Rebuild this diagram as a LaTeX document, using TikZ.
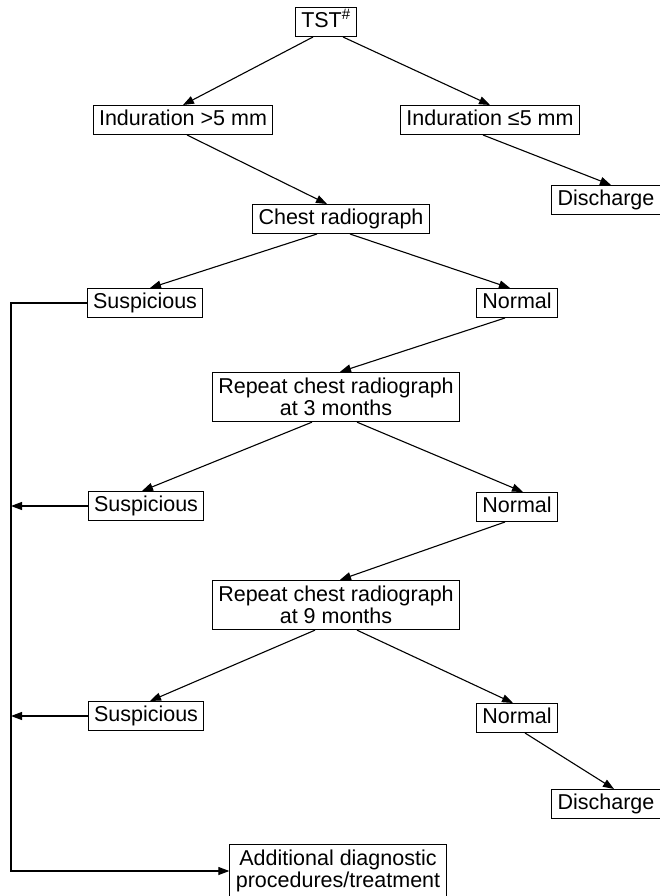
\documentclass[tikz,border=0pt]{standalone}
\usepackage{fontspec}
\setmainfont{Liberation Sans}
\usetikzlibrary{arrows.meta}

\begin{document}
\begin{tikzpicture}[
		x=1pt, y=-1pt,
		every node/.style={draw, line width=1pt, inner xsep=6pt, font=\fontsize{21.5}{21.5}\selectfont},
		box/.style={text height=15.5pt, text depth=4.5pt, inner ysep=4.5pt},
		twobox/.style={align=center, inner ysep=6pt},
		arr/.style={-{Triangle[length=11pt,width=8pt]}, line width=1.1pt}
		]
		\useasboundingbox (0,0) rectangle (659,896);
		\coordinate (rail) at (11,0);

		\node[box] (tst) at (326,22) {TST\textsuperscript{\#}};
		\node[box] (indbig) at (183,120) {Induration >5 mm};
		\node[box] (indsmall) at (490,120) {Induration ≤5 mm};
		\node[box] (discha) at (606,200) {Discharge};
		\node[box] (chest) at (341,219) {Chest radiograph};
		\node[box] (susa) at (145,303) {Suspicious};
		\node[box] (norma) at (517,303) {Normal};
		\node[twobox] (repa) at (336,397) {Repeat chest radiograph\\at 3 months};
		\node[box] (susb) at (146,506) {Suspicious};
		\node[box] (normb) at (517,507) {Normal};
		\node[twobox] (repb) at (336,605) {Repeat chest radiograph\\at 9 months};
		\node[box] (susc) at (146,716) {Suspicious};
		\node[box] (normc) at (517,718) {Normal};
		\node[box] (dischb) at (606,804) {Discharge};
		\node[twobox] (extra) at (338,871) {Additional diagnostic\\procedures/treatment};

		\draw[arr] ([xshift=-13pt]tst.south) -- (indbig.north);
		\draw[arr] ([xshift=17pt]tst.south) -- (indsmall.north);
		\draw[arr] ([xshift=4pt]indbig.south) -- ([xshift=-14pt]chest.north);
		\draw[arr] ([xshift=-7pt]indsmall.south) -- ([xshift=5pt]discha.north);
		\draw[arr] ([xshift=-24pt]chest.south) -- ([xshift=5pt]susa.north);
		\draw[arr] ([xshift=9pt]chest.south) -- ([xshift=-7pt]norma.north);
		\draw[arr] ([xshift=-12pt]norma.south) -- ([xshift=4pt]repa.north);
		\draw[arr] ([xshift=-24pt]repa.south) -- ([xshift=-4pt]susb.north);
		\draw[arr] ([xshift=21pt]repa.south) -- ([xshift=6pt]normb.north);
		\draw[arr] ([xshift=-12pt]normb.south) -- ([xshift=4pt]repb.north);
		\draw[arr] ([xshift=-21pt]repb.south) -- ([xshift=4pt]susc.north);
		\draw[arr] ([xshift=21pt]repb.south) -- ([xshift=-4pt]normc.north);
		\draw[arr] ([xshift=8pt]normc.south) -- ([xshift=8pt]dischb.north);

		% left rail
		\draw[arr] (susa.west) -| (rail |- extra.west) -- (extra.west);
		\draw[arr] (susb.west) -- (susb.west -| rail);
		\draw[arr] (susc.west) -- (susc.west -| rail);
\end{tikzpicture}
\end{document}
